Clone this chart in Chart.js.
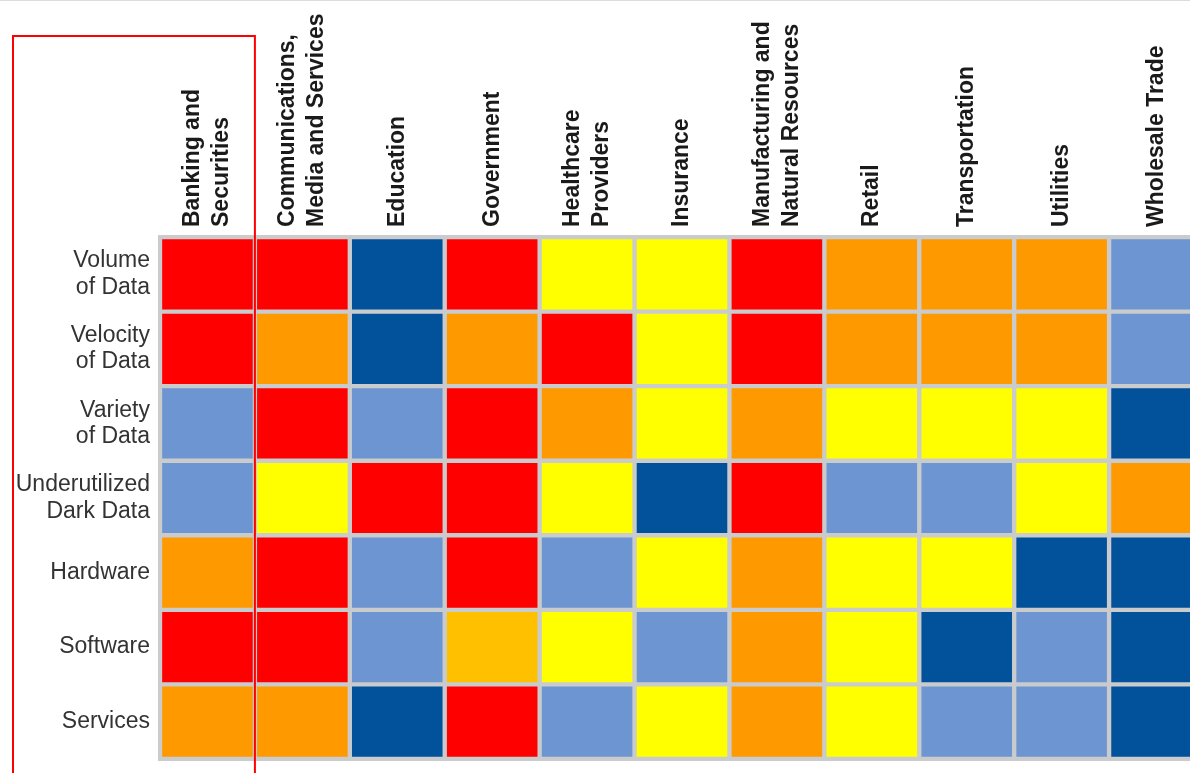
<!DOCTYPE html>
<html>
<head>
<meta charset="utf-8">
<title>Big data opportunity by industry</title>
<script src="https://cdn.jsdelivr.net/npm/chart.js@4/dist/chart.umd.min.js"></script>
<style>
  html, body { margin: 0; padding: 0; background: #fff; overflow: hidden; }
  #wrap { position: relative; width: 1210px; height: 773px; }
  #topline { position: absolute; left: 0; top: 0; width: 1190px; height: 1px; background: #dcdcdc; }
</style>
</head>
<body>
<div id="wrap"><canvas id="heatmap"></canvas></div>
<div id="topline"></div>
<script>
// industries across the top
var industries = [
  ['Banking and', 'Securities'],
  ['Communications,', 'Media and Services'],
  'Education',
  'Government',
  ['Healthcare', 'Providers'],
  'Insurance',
  ['Manufacturing and', 'Natural Resources'],
  'Retail',
  'Transportation',
  'Utilities',
  'Wholesale Trade'
];

// dimensions down the side
var dimensions = [
  ['Volume', 'of Data'],
  ['Velocity', 'of Data'],
  ['Variety', 'of Data'],
  ['Underutilized', 'Dark Data'],
  'Hardware',
  'Software',
  'Services'
];

// levels: 1 very low .. 6 very high, one value per industry
var volumeOfData   = [6, 6, 1, 6, 3, 3, 6, 5, 5, 5, 2];
var velocityOfData = [6, 5, 1, 5, 6, 3, 6, 5, 5, 5, 2];
var varietyOfData  = [2, 6, 2, 6, 5, 3, 5, 3, 3, 3, 1];
var darkData       = [2, 3, 6, 6, 3, 1, 6, 2, 2, 3, 5];
var hardware       = [5, 6, 2, 6, 2, 3, 5, 3, 3, 1, 1];
var software       = [6, 6, 2, 4, 3, 2, 5, 3, 1, 2, 1];
var services       = [5, 5, 1, 6, 2, 3, 5, 3, 2, 2, 1];

var rows = [volumeOfData, velocityOfData, varietyOfData, darkData, hardware, software, services];

// colour for each level (index = level - 1)
var levelColors = ['#02519b', '#6d95d1', '#ffff00', '#ffc000', '#ff9900', '#ff0000'];
var gapColor = '#c9cbcd';

var fontFamily = 'Liberation Sans, Arial, sans-serif';
var headSize = 23;
var headLine = 1.25;   // line height of the two-line headers

// every cell is a floating bar covering one row band [r, r + 1]
var datasets = rows.map(function (levels, r) {
  return {
    label: [].concat(dimensions[r]).join(' '),
    data: levels.map(function () { return [r, r + 1]; }),
    backgroundColor: levels.map(function (v) { return levelColors[v - 1]; }),
    borderColor: gapColor,
    borderWidth: 2.5,
    borderSkipped: false,
    grouped: false,
    barPercentage: 1,
    categoryPercentage: 1
  };
});

// grey frame behind the cells
var gridFrame = {
  id: 'gridFrame',
  beforeDatasetsDraw: function (chart) {
    var a = chart.chartArea, ctx = chart.ctx;
    ctx.save();
    ctx.fillStyle = gapColor;
    ctx.fillRect(a.left - 2, a.top - 2, a.right - a.left + 4, a.bottom - a.top + 4);
    ctx.restore();
  }
};

// red highlight box around the row labels and the first industry
var highlightBox = {
  id: 'highlightBox',
  afterDraw: function (chart) {
    var xs = chart.scales.x, ctx = chart.ctx;
    var right = (xs.getPixelForValue(0) + xs.getPixelForValue(1)) / 2;
    ctx.save();
    ctx.strokeStyle = '#ff0000';
    ctx.lineWidth = 2;
    ctx.strokeRect(13, 36, right - 13, chart.height);
    ctx.restore();
  }
};

new Chart(document.getElementById('heatmap'), {
  type: 'bar',
  data: { labels: industries, datasets: datasets },
  plugins: [gridFrame, highlightBox],
  options: {
    responsive: true,
    maintainAspectRatio: false,
    animation: false,
    layout: { padding: { top: 0, right: 6, bottom: 14, left: 0 } },
    plugins: {
      legend: { display: false },
      tooltip: { enabled: false }
    },
    scales: {
      x: {
        position: 'top',
        grid: { display: false, drawTicks: false },
        border: { display: false },
        ticks: {
          autoSkip: false,
          minRotation: 90,
          maxRotation: 90,
          padding: 10,
          // rotated labels sit 1.5 lines off the tick for two-line headers,
          // single-line headers get a taller line box so they centre too
          labelOffset: headSize * headLine * 1.5,
          color: '#1a1a1a',
          font: function (ctx) {
            var twoLines = ctx.tick && Array.isArray(ctx.tick.label);
            return {
              family: fontFamily,
              size: headSize,
              weight: 'bold',
              lineHeight: twoLines ? headLine : headLine * 1.5
            };
          }
        },
        afterFit: function (scale) {
          scale.height = 237;
          scale.paddingLeft = 0;
          scale.paddingRight = 0;
        }
      },
      y: {
        type: 'linear',
        min: 0,
        max: dimensions.length,
        reverse: true,
        grid: { display: false, drawTicks: false },
        border: { display: false },
        afterBuildTicks: function (scale) {
          scale.ticks = dimensions.map(function (d, i) { return { value: i + 0.5 }; });
        },
        ticks: {
          padding: 10,
          color: '#333333',
          font: { family: fontFamily, size: 23, lineHeight: 1.15 },
          callback: function (value) { return dimensions[Math.floor(value)]; }
        },
        afterFit: function (scale) {
          scale.width = 160;
          scale.paddingTop = 0;
          scale.paddingBottom = 0;
        }
      }
    }
  }
});
</script>
</body>
</html>
